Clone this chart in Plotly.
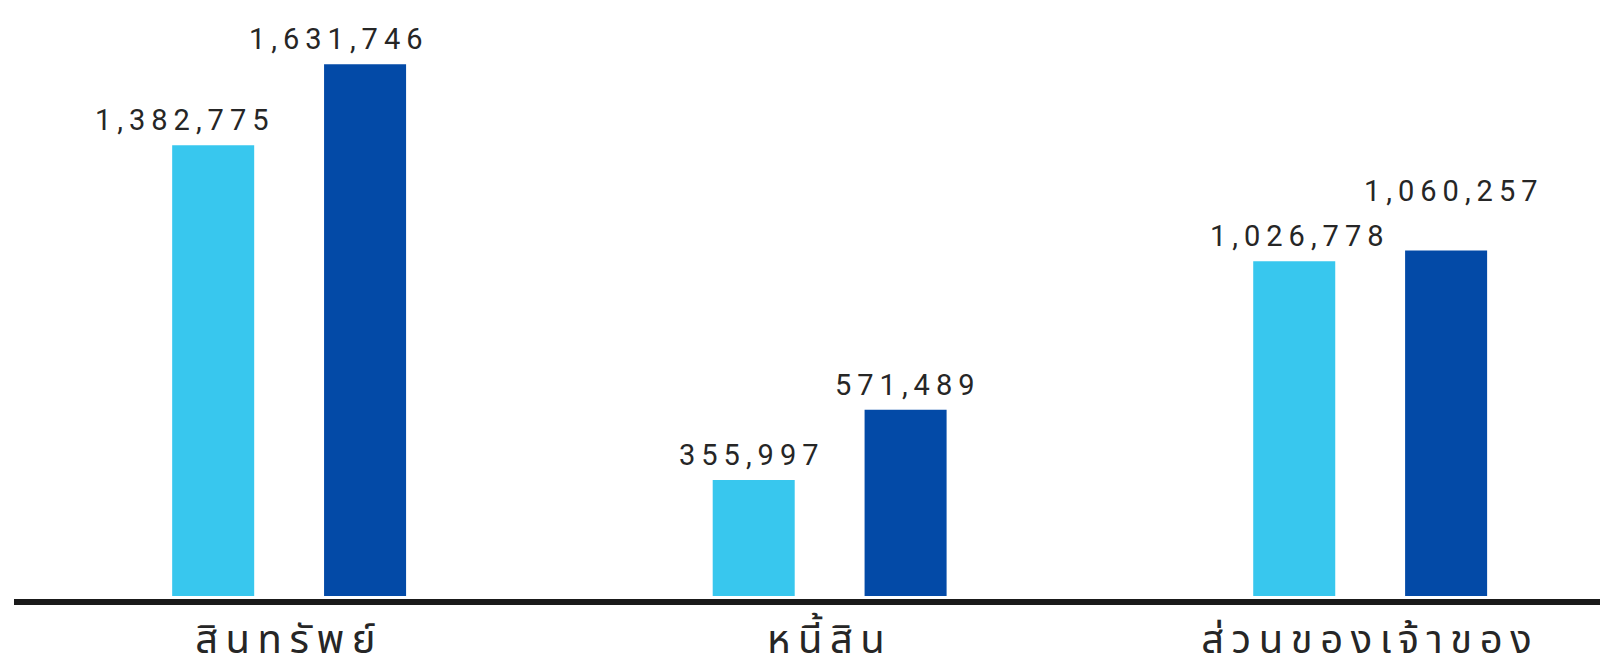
import plotly.graph_objects as go

# categories (Thai balance-sheet items)
categories = ["สินทรัพย์", "หนี้สิน", "ส่วนของเจ้าของ"]

# two periods: light blue = earlier, dark blue = later
values_prev = [1382775, 355997, 1026778]
values_curr = [1631746, 571489, 1060257]

light_blue = "#38C7EE"
dark_blue = "#034AA7"
text_color = "#262626"

# label nudges (px) per category, as laid out in the source graphic
prev_nudge = [(-28, 0), (-2, 0), (6, 0)]
curr_nudge = [(-26, 0), (2, 0), (8, 34)]


def fmt(v):
    return "{:,}".format(v)


fig = go.Figure()
fig.add_trace(go.Bar(x=categories, y=values_prev, name="prev",
                     marker=dict(color=light_blue, line=dict(width=0))))
fig.add_trace(go.Bar(x=categories, y=values_curr, name="curr",
                     marker=dict(color=dark_blue, line=dict(width=0))))

# value labels above each bar (shifted left/right onto the grouped bars)
for vals, dx, nudge in [(values_prev, -76, prev_nudge), (values_curr, 76, curr_nudge)]:
    for cat, v, (nx, ny) in zip(categories, vals, nudge):
        fig.add_annotation(x=cat, y=v, text=fmt(v), showarrow=False,
                           xanchor="center", yanchor="bottom", xshift=dx + nx, yshift=6 + ny,
                           font=dict(family="Roboto, sans-serif", size=29, color=text_color))

# page body has an 8px margin, so the figure is 8px smaller than the window
fig.update_layout(
    width=1600, height=654,
    margin=dict(l=6, r=0, t=2, b=63, autoexpand=False),
    paper_bgcolor="white", plot_bgcolor="white",
    barmode="group", bargap=0.438, bargroupgap=0.46,
    showlegend=False,
)
fig.update_xaxes(range=[-0.509, 2.44], showline=True, linecolor="#1a1a1a", linewidth=6,
                 showgrid=False, ticks="", ticklabelstandoff=0,
                 tickfont=dict(family="Noto Sans Thai, Noto Sans, sans-serif", size=40, color=text_color))
fig.update_yaxes(range=[-9200, 1798000], visible=False, showgrid=False, zeroline=False)

# spread the letters out like the reference
spacing_js = """
document.querySelectorAll('.annotation-text').forEach(function(t){ t.style.letterSpacing = '6px'; });
document.querySelectorAll('.xtick text').forEach(function(t){ t.style.letterSpacing = '7.5px'; });
"""
fig.write_html("out.html", post_script=spacing_js)
